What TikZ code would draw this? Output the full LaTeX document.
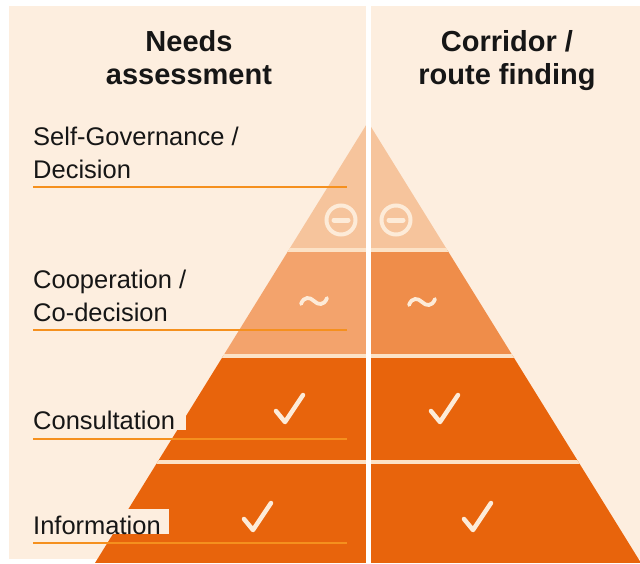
\documentclass[tikz,border=0pt]{standalone}
\usepackage{fontspec}
\setmainfont{Liberation Sans}
\definecolor{bg}{HTML}{FDEEDF}
\definecolor{bandone}{HTML}{F6C49C}
\definecolor{bandtwol}{HTML}{F3A36C}
\definecolor{bandtwor}{HTML}{EF8D4A}
\definecolor{bandlow}{HTML}{E8640C}
\definecolor{sepline}{HTML}{FCE2C6}
\definecolor{leadline}{HTML}{F5901E}
\definecolor{iconcol}{HTML}{FDEBD8}
\definecolor{txt}{HTML}{161616}
\tikzset{
  hdr/.style={font=\fontsize{29}{33}\selectfont\bfseries, text=txt, anchor=base, inner sep=0pt},
  lbl/.style={font=\fontsize{25.5}{30}\selectfont, text=txt, anchor=base west, inner sep=0pt},
  boxed/.style={fill=bg, text height=25pt, text depth=0pt},
  leader/.style={draw=leadline, line width=2.2pt},
  sepstyle/.style={draw=sepline, line width=3.5pt},
  minusicon/.pic={
    \draw[iconcol, line width=4pt] (0,0) circle (14.5);
    \draw[iconcol, line width=5pt, line cap=round] (-7,0) -- (7,0);
  },
  tildeicon/.pic={
    \draw[iconcol, line width=3.8pt, line cap=round]
      (-13,3) .. controls (-10,-5) and (-4,-4) .. (0,0)
      .. controls (4,4) and (10,5) .. (13,-3);
  },
  checkicon/.pic={
    \draw[iconcol, line width=4.5pt, line cap=round, line join=round]
      (-14,2) -- (-5,13) -- (13,-14);
  }
}
\begin{document}
\begin{tikzpicture}[x=1pt,y=-1pt]
\useasboundingbox (0,0) rectangle (640,563);
\fill[white] (0,0) rectangle (640,563);
\fill[bg] (9,6) rectangle (640,559);
% pyramid
\coordinate (apex) at (368,122);
\coordinate (bl) at (95,563);
\coordinate (br) at (641,563);
\begin{scope}
  \clip (apex) -- (bl) -- (br) -- cycle;
  \fill[bandone] (0,110) rectangle (640,250);
  \fill[bandtwol] (0,250) rectangle (368,356);
  \fill[bandtwor] (368,250) rectangle (640,356);
  \fill[bandlow] (0,356) rectangle (640,563);
  \draw[sepstyle] (0,250) -- (640,250);
  \draw[sepstyle] (0,356) -- (640,356);
  \draw[sepstyle] (0,462) -- (640,462);
\end{scope}
\draw[white, line width=5pt] (368,0) -- (368,563);
% icons
\pic at (341,220) {minusicon};
\pic at (396,220) {minusicon};
\pic at (314,301) {tildeicon};
\pic at (422,302) {tildeicon};
\pic at (290,409) {checkicon};
\pic at (445,409) {checkicon};
\pic at (258,517) {checkicon};
\pic at (478,517) {checkicon};
% headers
\node[hdr] (h1a) at (189,51) {Needs};
\node[hdr] (h1b) at (189,84) {assessment};
\node[hdr] (h2a) at (507,51) {Corridor /};
\node[hdr] (h2b) at (507,84) {route finding};
% labels
\node[lbl] (sg1) at (33,145) {Self-Governance /};
\node[lbl] (sg2) at (33,178) {Decision};
\node[lbl] (co1) at (33,288) {Cooperation /};
\node[lbl] (co2) at (33,321) {Co-decision};
\node[lbl, boxed] (cons) at (33,429.5) {Consultation\kern11pt};
\node[lbl, boxed] (info) at (33,534) {Information\kern8pt};
% leader lines
\coordinate (l1a) at (33,187);  \coordinate (l1b) at (347,187);
\coordinate (l2a) at (33,330);  \coordinate (l2b) at (347,330);
\coordinate (l3a) at (33,439);  \coordinate (l3b) at (347,439);
\coordinate (l4a) at (33,543);  \coordinate (l4b) at (347,543);
\draw[leader] (l1a) -- (l1b);
\draw[leader] (l2a) -- (l2b);
\draw[leader] (l3a) -- (l3b);
\draw[leader] (l4a) -- (l4b);
\end{tikzpicture}
\end{document}
